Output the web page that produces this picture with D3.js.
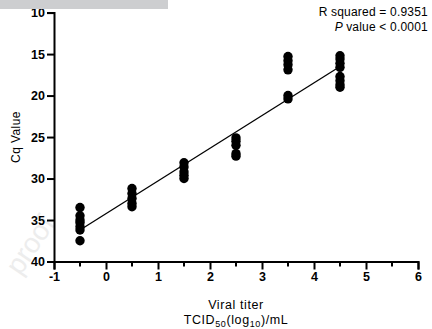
<!DOCTYPE html>
<html>
<head>
<meta charset="utf-8">
<script src="https://cdn.jsdelivr.net/npm/d3@7"></script>
<style>
  body { margin: 0; background: #fff; }
  svg { display: block; font-family: "Liberation Sans", Arial, sans-serif; }
</style>
</head>
<body>
<div id="chart"></div>
<script>
// titer (log10 TCID50/mL) groups and Cq values
const titers = [-0.5, 0.5, 1.5, 2.5, 3.5, 4.5];
const cqValues = [
  [33.5, 34.5, 35.0, 35.3, 35.8, 36.2, 37.5],
  [31.2, 31.8, 32.4, 33.0, 33.4],
  [28.1, 28.6, 29.2, 29.6, 30.0],
  [25.1, 25.5, 26.0, 27.0, 27.3],
  [15.3, 15.8, 16.3, 16.9, 20.0, 20.4],
  [15.2, 15.6, 16.1, 16.6, 17.7, 18.2, 18.7, 19.0]
];
// fitted line Cq = intercept + slope * titer
const fitSlope = -3.94;
const fitIntercept = 34.23;
const xTicks = [-1, 0, 1, 2, 3, 4, 5, 6];
const yTicks = [10, 15, 20, 25, 30, 35, 40];
const statLines = ["R squared = 0.9351", "value < 0.0001"];

const width = 432, height = 329;
const margin = { left: 54, right: 14, top: 12.6, bottom: 67.5 };
const font = '"Liberation Sans", Arial, sans-serif';

const svg = d3.select('#chart').append('svg')
  .attr('width', width)
  .attr('height', height);

// watermark
svg.append('text')
  .attr('transform', 'translate(38,250) rotate(-56)')
  .attr('text-anchor', 'middle')
  .attr('font-size', 28)
  .attr('fill', '#ededed')
  .text('proof');

const x = d3.scaleLinear().domain([-1, 6]).range([margin.left, width - margin.right]);
const y = d3.scaleLinear().domain([10, 40]).range([margin.top, height - margin.bottom]);

// regression line
svg.append('line')
  .attr('x1', x(-0.5)).attr('y1', y(fitIntercept + fitSlope * -0.5))
  .attr('x2', x(4.5)).attr('y2', y(fitIntercept + fitSlope * 4.5))
  .attr('stroke', '#000').attr('stroke-width', 1.3);

// points
const pts = [];
titers.forEach((t, i) => cqValues[i].forEach(v => pts.push([t, v])));
svg.append('g').selectAll('circle')
  .data(pts)
  .enter().append('circle')
  .attr('cx', d => x(d[0]))
  .attr('cy', d => y(d[1]))
  .attr('r', 4.7)
  .attr('fill', '#000');

// y axis
const yAxis = svg.append('g')
  .attr('transform', `translate(${margin.left},0)`)
  .call(d3.axisLeft(y).tickValues(yTicks).tickSize(7).tickPadding(2));
yAxis.select('.domain').attr('stroke-width', 2);
yAxis.selectAll('.tick line').attr('stroke-width', 2);
yAxis.selectAll('.tick text')
  .attr('font-size', 12.5).attr('font-weight', 'bold').attr('fill', '#000')
  .attr('font-family', font);

// x axis
const xAxis = svg.append('g')
  .attr('transform', `translate(0,${height - margin.bottom})`)
  .call(d3.axisBottom(x).tickValues(xTicks).tickFormat(d => String(d)).tickSize(8).tickPadding(3));
xAxis.select('.domain').attr('stroke-width', 2);
xAxis.selectAll('.tick line').attr('stroke-width', 2);
xAxis.selectAll('.tick text')
  .attr('font-size', 12.5).attr('font-weight', 'bold').attr('fill', '#000')
  .attr('font-family', font);

// minor ticks
svg.append('g').selectAll('line')
  .data(d3.range(-0.5, 6, 1))
  .enter().append('line')
  .attr('x1', d => x(d)).attr('x2', d => x(d))
  .attr('y1', height - margin.bottom).attr('y2', height - margin.bottom + 5)
  .attr('stroke', '#000').attr('stroke-width', 2);

// axis titles
svg.append('text')
  .attr('transform', `translate(20,${(margin.top + height - margin.bottom) / 2}) rotate(-90)`)
  .attr('text-anchor', 'middle')
  .attr('font-size', 12)
  .attr('letter-spacing', 0.4)
  .text('Cq Value');

const xMid = (margin.left + width - margin.right) / 2;
svg.append('text')
  .attr('x', xMid).attr('y', 309)
  .attr('text-anchor', 'middle')
  .attr('font-size', 12.5)
  .attr('letter-spacing', 0.6)
  .text('Viral titer');

const t2 = svg.append('text')
  .attr('x', xMid).attr('y', 324)
  .attr('text-anchor', 'middle')
  .attr('font-size', 12.5)
  .attr('letter-spacing', 0.6);
t2.append('tspan').text('TCID');
t2.append('tspan').attr('font-size', 9).attr('dy', 3).text('50');
t2.append('tspan').attr('dy', -3).text('(log');
t2.append('tspan').attr('font-size', 9).attr('dy', 3).text('10');
t2.append('tspan').attr('dy', -3).text(')/mL');

// stats
svg.append('text')
  .attr('x', 428).attr('y', 16)
  .attr('text-anchor', 'end')
  .attr('font-size', 12)
  .attr('letter-spacing', 0.2)
  .text(statLines[0]);
const st = svg.append('text')
  .attr('x', 428).attr('y', 31)
  .attr('text-anchor', 'end')
  .attr('font-size', 12)
  .attr('letter-spacing', 0.2);
st.append('tspan').attr('font-style', 'italic').text('P ');
st.append('tspan').text(statLines[1]);

// gray banner at top left
svg.append('rect')
  .attr('x', 0).attr('y', 0)
  .attr('width', 168).attr('height', 9)
  .attr('fill', '#cdced0');
</script>
</body>
</html>
